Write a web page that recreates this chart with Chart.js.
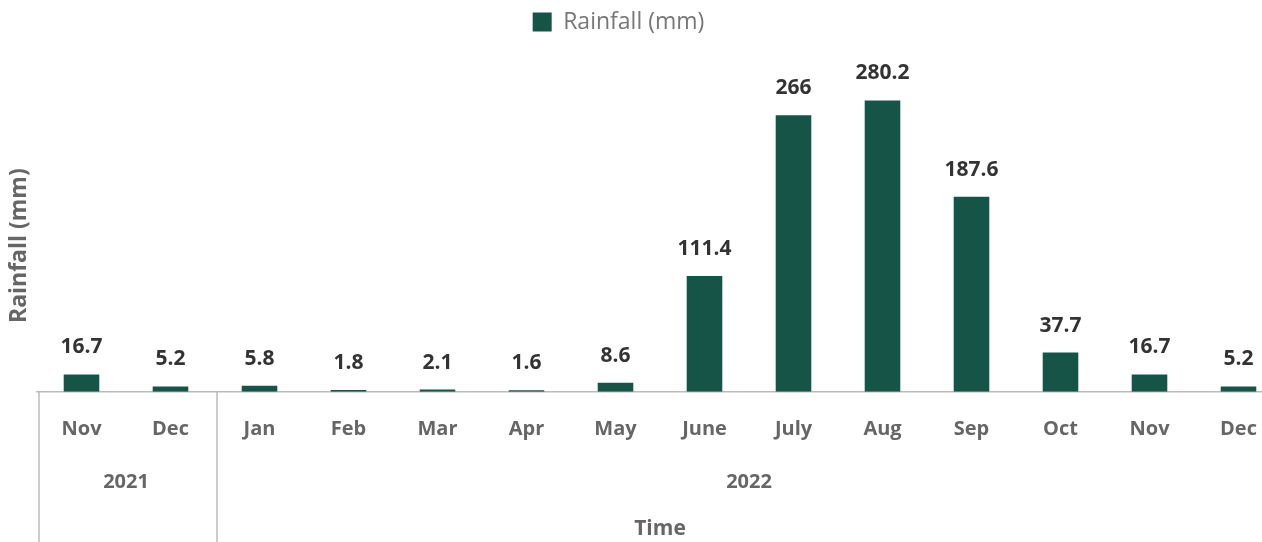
<!DOCTYPE html>
<html>
<head>
<meta charset="utf-8">
<title>Rainfall (mm)</title>
<script src="https://cdn.jsdelivr.net/npm/chart.js@4.4.0/dist/chart.umd.min.js"></script>
<style>
  html, body { margin: 0; padding: 0; background: #fff; overflow: hidden; }
  #wrap { position: relative; width: 1283px; height: 542px; }
</style>
</head>
<body>
<div id="wrap"><canvas id="rainChart"></canvas></div>
<script>
// Data
const monthLabels = ["Nov", "Dec", "Jan", "Feb", "Mar", "Apr", "May", "June", "July", "Aug", "Sep", "Oct", "Nov", "Dec"];
const monthYears = ["2021", "2021", "2022", "2022", "2022", "2022", "2022", "2022", "2022", "2022", "2022", "2022", "2022", "2022"];
const rainfall = [16.7, 5.2, 5.8, 1.8, 2.1, 1.6, 8.6, 111.4, 266, 280.2, 187.6, 37.7, 16.7, 5.2];

const barColor = '#175448';
const font = "'Open Sans', 'Noto Sans', sans-serif";

// Value labels on top of each bar
const barValues = {
  id: 'barValues',
  afterDatasetsDraw(chart) {
    const ctx = chart.ctx;
    const meta = chart.getDatasetMeta(0);
    ctx.save();
    ctx.font = "bold 21px " + font;
    ctx.fillStyle = '#333';
    ctx.textAlign = 'center';
    ctx.textBaseline = 'alphabetic';
    meta.data.forEach((bar, i) => {
      ctx.fillText(String(rainfall[i]), bar.x, bar.y - 21);
    });
    ctx.restore();
  }
};

// Second row of the x axis: years, with separators between them
const yearGroups = {
  id: 'yearGroups',
  afterDraw(chart) {
    const x = chart.scales.x;
    const ctx = chart.ctx;
    const step = x.getPixelForValue(1) - x.getPixelForValue(0);
    const groups = [];
    monthYears.forEach((y, i) => {
      const last = groups[groups.length - 1];
      if (last && last.year === y) last.end = i;
      else groups.push({ year: y, start: i, end: i });
    });
    ctx.save();
    ctx.strokeStyle = '#bbb';
    ctx.lineWidth = 1.5;
    ctx.font = "bold 20px " + font;
    ctx.fillStyle = '#666';
    ctx.textAlign = 'center';
    ctx.textBaseline = 'middle';
    groups.forEach(g => {
      const edge = x.getPixelForValue(g.start) - step / 2 + 2;
      ctx.beginPath();
      ctx.moveTo(edge, x.top);
      ctx.lineTo(edge, chart.height);
      ctx.stroke();
      const mid = (x.getPixelForValue(g.start) + x.getPixelForValue(g.end)) / 2;
      ctx.fillText(g.year, mid, 482);
    });
    ctx.restore();
  }
};

// Nudge the legend left and the y title down, as in the picture
const layoutNudge = {
  id: 'layoutNudge',
  afterLayout(chart) {
    chart.legend.left -= 23;
    chart.legend.right -= 23;
    chart.scales.y.top += 56;
  }
};

const config = {
  type: 'bar',
  data: {
    labels: monthLabels,
    datasets: [{
      label: 'Rainfall (mm)',
      data: rainfall,
      backgroundColor: barColor,
      borderWidth: 0,
      barPercentage: 0.4,
      categoryPercentage: 1
    }]
  },
  options: {
    responsive: true,
    maintainAspectRatio: false,
    animation: false,
    plugins: {
      legend: {
        position: 'top',
        labels: {
          color: '#777',
          boxWidth: 19,
          boxHeight: 19,
          padding: 10.5,
          font: { family: font, size: 23 }
        }
      },
      tooltip: { enabled: false }
    },
    scales: {
      x: {
        grid: { display: false, drawTicks: false },
        border: { display: true, color: '#bbb', width: 1.5 },
        ticks: {
          color: '#666',
          padding: 25,
          maxRotation: 0,
          autoSkip: false,
          font: { family: font, size: 20, weight: 'bold' }
        },
        title: {
          display: true,
          text: 'Time',
          color: '#666',
          padding: { top: 51, bottom: 0 },
          font: { family: font, size: 21, weight: 'bold' }
        }
      },
      y: {
        min: 0,
        max: 335,
        grid: { display: false, drawTicks: false },
        border: { display: false },
        ticks: { display: false },
        title: {
          display: true,
          text: 'Rainfall (mm)',
          color: '#666',
          padding: { top: 6, bottom: 3.4 },
          font: { family: font, size: 23, weight: 'bold' }
        }
      }
    }
  },
  plugins: [barValues, yearGroups, layoutNudge]
};

// Render chart
const ctx = document.getElementById('rainChart').getContext('2d');
new Chart(ctx, config);
</script>
</body>
</html>
